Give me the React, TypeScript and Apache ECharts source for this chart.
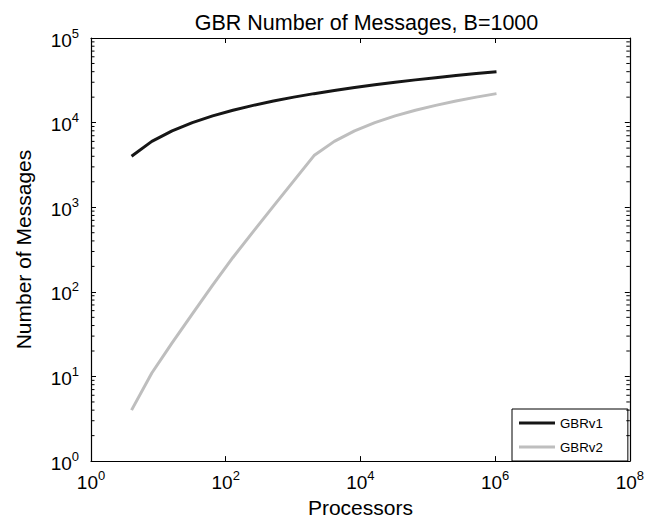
import React, { useEffect, useRef } from "react";
import * as echarts from "echarts";

// Processor counts (powers of two from 4 to 2^20)
const processors = [
  4, 8, 16, 32, 64, 128, 256, 512, 1024, 2048, 4096, 8192, 16384, 32768,
  65536, 131072, 262144, 524288, 1048576,
];

// Number of messages for each variant
const gbrV1 = [
  4000, 6000, 8000, 10000, 12000, 14000, 16000, 18000, 20000, 22000, 24000,
  26000, 28000, 30000, 32000, 34000, 36000, 38000, 40000,
];
const gbrV2 = [
  4, 11, 25, 55, 120, 255, 515, 1030, 2050, 4080, 6000, 8000, 10000, 12000,
  14000, 16000, 18000, 20000, 22000,
];

const seriesNames = ["GBRv1", "GBRv2"];

// Minor tick positions on the logarithmic y axis (2..9 per decade)
const yMinorTicks = [
  2, 3, 4, 5, 6, 7, 8, 9,
  20, 30, 40, 50, 60, 70, 80, 90,
  200, 300, 400, 500, 600, 700, 800, 900,
  2000, 3000, 4000, 5000, 6000, 7000, 8000, 9000,
  20000, 30000, 40000, 50000, 60000, 70000, 80000, 90000,
];

const X_MIN = 1;
const X_MAX = 1e8;
const Y_MIN = 1;
const Y_MAX = 1e5;

const FONT = "'Liberation Sans', Arial, Helvetica, sans-serif";

const powLabel = (v: number) => `{b|10}{s|${Math.round(Math.log10(v))}}`;

const richPow = {
  b: { fontSize: 19, fontFamily: FONT, color: "#000", verticalAlign: "bottom", padding: [4, 0, 0, 0] },
  s: { fontSize: 13, fontFamily: FONT, color: "#000", verticalAlign: "top" },
};

const frameLine = { show: true, lineStyle: { color: "#000", width: 1.2 } };
const majorTick = { show: true, inside: true, length: 5, lineStyle: { color: "#000" } };

export default function App() {
  const ref = useRef<HTMLDivElement>(null);

  useEffect(() => {
    if (!ref.current) return;
    const chart = echarts.init(ref.current, undefined, { renderer: "svg" });

    const option: echarts.EChartsOption = {
      animation: false,
      backgroundColor: "#fff",
      textStyle: { fontFamily: FONT },
      title: {
        text: "GBR Number of Messages, B=1000",
        left: 361.5,
        textAlign: "center",
        top: 7,
        textStyle: { fontSize: 21.5, fontWeight: "normal", color: "#000", fontFamily: FONT },
      },
      legend: {
        data: seriesNames.map((n) => ({ name: n, icon: "rect" })),
        orient: "vertical",
        left: 512,
        top: 409,
        padding: [7, 25, 7, 7],
        itemGap: 10,
        itemWidth: 36,
        itemHeight: 3,
        borderColor: "#000",
        borderWidth: 1,
        backgroundColor: "#fff",
        textStyle: { fontSize: 13.3, color: "#000", fontFamily: FONT, lineHeight: 14 },
      },
      grid: { left: 91, right: 15, top: 38, bottom: 57 },
      xAxis: [
        {
          type: "log",
          logBase: 10,
          min: X_MIN,
          max: X_MAX,
          interval: 2,
          position: "bottom",
          name: "Processors",
          nameLocation: "middle",
          nameGap: 32,
          nameTextStyle: { fontSize: 21, color: "#000", fontFamily: FONT },
          axisLine: frameLine,
          axisTick: majorTick,
          axisLabel: { formatter: powLabel, rich: richPow, margin: 8 },
          splitLine: { show: false },
        },
        {
          type: "log",
          logBase: 10,
          min: X_MIN,
          max: X_MAX,
          interval: 2,
          position: "top",
          axisLine: frameLine,
          axisTick: majorTick,
          axisLabel: { show: false },
          splitLine: { show: false },
        },
      ],
      yAxis: [
        {
          type: "log",
          logBase: 10,
          min: Y_MIN,
          max: Y_MAX,
          interval: 1,
          position: "left",
          name: "Number of Messages",
          nameLocation: "middle",
          nameGap: 57,
          nameTextStyle: { fontSize: 21, color: "#000", fontFamily: FONT },
          axisLine: frameLine,
          axisTick: majorTick,
          axisLabel: { formatter: powLabel, rich: richPow, margin: 12 },
          splitLine: { show: false },
        },
        {
          type: "log",
          logBase: 10,
          min: Y_MIN,
          max: Y_MAX,
          interval: 1,
          position: "right",
          axisLine: frameLine,
          axisTick: majorTick,
          axisLabel: { show: false },
          splitLine: { show: false },
        },
      ],
      series: [
        {
          name: seriesNames[0],
          type: "line",
          xAxisIndex: 0,
          yAxisIndex: 0,
          symbol: "none",
          data: processors.map((p, i) => [p, gbrV1[i]]),
          lineStyle: { color: "#161616", width: 3 },
          itemStyle: { color: "#161616" },
          z: 3,
        },
        {
          name: seriesNames[1],
          type: "line",
          xAxisIndex: 0,
          yAxisIndex: 0,
          symbol: "none",
          data: processors.map((p, i) => [p, gbrV2[i]]),
          lineStyle: { color: "#bebebe", width: 3 },
          itemStyle: { color: "#bebebe" },
          z: 2,
        },
        {
          // minor ticks on both vertical frame edges
          name: "yMinor",
          type: "custom",
          xAxisIndex: 0,
          yAxisIndex: 0,
          silent: true,
          clip: false,
          z: 5,
          data: yMinorTicks.map((v) => [X_MIN, v]),
          renderItem: (params: any, api: any) => {
            const v = api.value(1);
            const l = api.coord([X_MIN, v]);
            const r = api.coord([X_MAX, v]);
            const style = { stroke: "#000", lineWidth: 1 };
            return {
              type: "group",
              children: [
                { type: "line", shape: { x1: l[0], y1: l[1], x2: l[0] + 3.5, y2: l[1] }, style },
                { type: "line", shape: { x1: r[0], y1: r[1], x2: r[0] - 3.5, y2: r[1] }, style },
              ],
            };
          },
        } as any,
      ],
    };

    chart.setOption(option);
    return () => chart.dispose();
  }, []);

  return (
    <div
      ref={ref}
      style={{ position: "fixed", left: 0, top: 0, width: 647, height: 523, background: "#fff" }}
    />
  );
}
